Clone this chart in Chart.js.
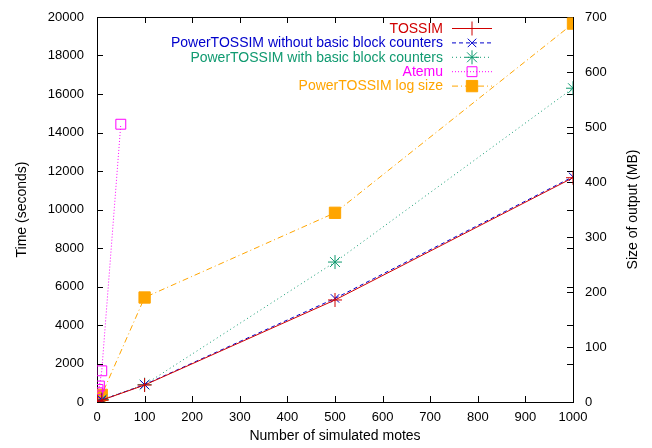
<!DOCTYPE html>
<html>
<head>
<meta charset="UTF-8" />
<title>PowerTOSSIM scalability</title>
<script src="https://cdn.jsdelivr.net/npm/chart.js"></script>
<style>
  html, body { margin: 0; padding: 0; background: #fff; }
  #wrap { width: 652px; height: 448px; }
</style>
</head>
<body>
<div id="wrap"><canvas id="c" width="652" height="448"></canvas></div>
<script>
// number of motes / values
const tossimX   = [1, 10, 100, 500, 1000];
const tossimY   = [10, 95, 880, 5300, 11650];
const noBbcX    = [1, 10, 100, 500, 1000];
const noBbcY    = [12, 100, 900, 5380, 11700];
const withBbcX  = [1, 10, 100, 500, 1000];
const withBbcY  = [15, 130, 900, 7270, 16300];
const atemuX    = [1, 2, 5, 10, 50];
const atemuY    = [480, 650, 830, 1620, 14430];
const logX      = [1, 2, 5, 10, 100, 500, 1000];
const logMB     = [1, 2, 5, 13, 190, 344, 688];

const xTicksMax = 1000;
const yTimeMax  = 20000;
const ySizeMax  = 700;

function pts(xs, ys) { return xs.map((x, i) => ({ x: x, y: ys[i] })); }

const FONT = '"Liberation Sans", Arial, Helvetica, sans-serif';
const plain = v => String(v);

const frame = {
  id: 'frame',
  beforeDatasetsDraw(chart) {
    const ctx = chart.ctx, a = chart.chartArea;
    const sx = chart.scales.x, sy = chart.scales.y, sy2 = chart.scales.y2;
    const L = 6;
    ctx.save();
    ctx.strokeStyle = '#000';
    ctx.lineWidth = 1;
    ctx.beginPath();
    sx.ticks.forEach(t => {
      const px = Math.round(sx.getPixelForValue(t.value)) + 0.5;
      ctx.moveTo(px, a.bottom); ctx.lineTo(px, a.bottom - L);
      ctx.moveTo(px, a.top); ctx.lineTo(px, a.top + L);
    });
    sy.ticks.forEach(t => {
      const py = Math.round(sy.getPixelForValue(t.value)) + 0.5;
      ctx.moveTo(a.left, py); ctx.lineTo(a.left + L, py);
      ctx.moveTo(a.right, py); ctx.lineTo(a.right - L, py);
    });
    sy2.ticks.forEach(t => {
      const py = Math.round(sy2.getPixelForValue(t.value)) + 0.5;
      ctx.moveTo(a.right, py); ctx.lineTo(a.right - L, py);
    });
    ctx.stroke();
    ctx.strokeRect(Math.round(a.left) + 0.5, Math.round(a.top) + 0.5,
                   Math.round(a.right - a.left), Math.round(a.bottom - a.top));
    // right axis title reads bottom-to-top like the left one
    ctx.font = '14px ' + FONT;
    ctx.fillStyle = '#000';
    ctx.textAlign = 'center';
    ctx.textBaseline = 'middle';
    ctx.translate(633, (a.top + a.bottom) / 2);
    ctx.rotate(-Math.PI / 2);
    ctx.fillText('Size of output (MB)', 0, 0);
    ctx.restore();
  }
};

const keyBox = {
  id: 'keyBox',
  afterDraw(chart) {
    const ctx = chart.ctx;
    const textRight = 443, x0 = 452, x1 = 492, top = 28, step = 14.4;
    ctx.save();
    ctx.font = '14px ' + FONT;
    ctx.textAlign = 'right';
    ctx.textBaseline = 'middle';
    chart.data.datasets.forEach((ds, i) => {
      const y = top + i * step;
      ctx.fillStyle = ds.borderColor;
      ctx.fillText(ds.label, textRight, y + 1);
      ctx.strokeStyle = ds.borderColor;
      ctx.lineWidth = ds.borderWidth;
      ctx.setLineDash(ds.borderDash || []);
      ctx.beginPath();
      ctx.moveTo(x0, y + 0.5); ctx.lineTo(x1, y + 0.5);
      ctx.stroke();
      ctx.setLineDash([]);
      ctx.fillStyle = ds.pointBackgroundColor;
      ctx.strokeStyle = ds.borderColor;
      Chart.helpers.drawPoint(ctx, {
        pointStyle: ds.pointStyle, radius: ds.pointRadius, rotation: 0,
        borderWidth: ds.pointBorderWidth || 1
      }, (x0 + x1) / 2, y + 0.5);
    });
    ctx.restore();
  }
};

new Chart(document.getElementById('c'), {
  type: 'line',
  data: {
    datasets: [
      { label: 'TOSSIM', data: pts(tossimX, tossimY), yAxisID: 'y',
        borderColor: '#d00000', borderWidth: 1, pointStyle: 'cross', pointRadius: 7,
        pointBorderWidth: 1, pointBackgroundColor: 'rgba(0,0,0,0)' },
      { label: 'PowerTOSSIM without basic block counters', data: pts(noBbcX, noBbcY), yAxisID: 'y',
        borderColor: '#0000cc', borderWidth: 1, borderDash: [4, 3], pointStyle: 'crossRot', pointRadius: 6,
        pointBorderWidth: 1, pointBackgroundColor: 'rgba(0,0,0,0)' },
      { label: 'PowerTOSSIM with basic block counters', data: pts(withBbcX, withBbcY), yAxisID: 'y',
        borderColor: '#109a70', borderWidth: 1, borderDash: [1, 3], pointStyle: 'star', pointRadius: 7,
        pointBorderWidth: 1, pointBackgroundColor: 'rgba(0,0,0,0)' },
      { label: 'Atemu', data: pts(atemuX, atemuY), yAxisID: 'y',
        borderColor: '#ff00ff', borderWidth: 1, borderDash: [1, 2], pointStyle: 'rect', pointRadius: 7,
        pointBorderWidth: 1, pointBackgroundColor: 'rgba(0,0,0,0)' },
      { label: 'PowerTOSSIM log size', data: pts(logX, logMB), yAxisID: 'y2',
        borderColor: '#ffa500', borderWidth: 1, borderDash: [6, 3, 1, 3], pointStyle: 'rect', pointRadius: 8,
        pointBorderWidth: 1, pointBackgroundColor: '#ffa500' }
    ]
  },
  options: {
    responsive: false,
    animation: false,
    layout: { padding: { top: 17, left: 0, right: 0, bottom: 0 } },
    plugins: { legend: { display: false }, tooltip: { enabled: false } },
    elements: { line: { tension: 0, fill: false } },
    scales: {
      x: {
        type: 'linear', min: 0, max: xTicksMax,
        grid: { display: false }, border: { display: false },
        ticks: { stepSize: 100, color: '#000', font: { family: FONT, size: 13 }, padding: 0, maxRotation: 0, callback: plain },
        title: { display: true, text: 'Number of simulated motes', color: '#000', font: { family: FONT, size: 14 }, padding: { top: 2, bottom: 3 } },
        afterFit(s) { s.height = 46; }
      },
      y: {
        position: 'left', min: 0, max: yTimeMax,
        grid: { display: false }, border: { display: false },
        ticks: { stepSize: 2000, color: '#000', font: { family: FONT, size: 13 }, padding: 5, callback: plain },
        title: { display: true, text: 'Time (seconds)', color: '#000', font: { family: FONT, size: 14 }, padding: { top: 14 } },
        afterFit(s) { s.width = 97; }
      },
      y2: {
        position: 'right', min: 0, max: ySizeMax,
        grid: { display: false }, border: { display: false },
        ticks: { stepSize: 100, color: '#000', font: { family: FONT, size: 13 }, padding: 4, callback: plain },
        afterFit(s) { s.width = 79; }
      }
    }
  },
  plugins: [frame, keyBox]
});
</script>
</body>
</html>
